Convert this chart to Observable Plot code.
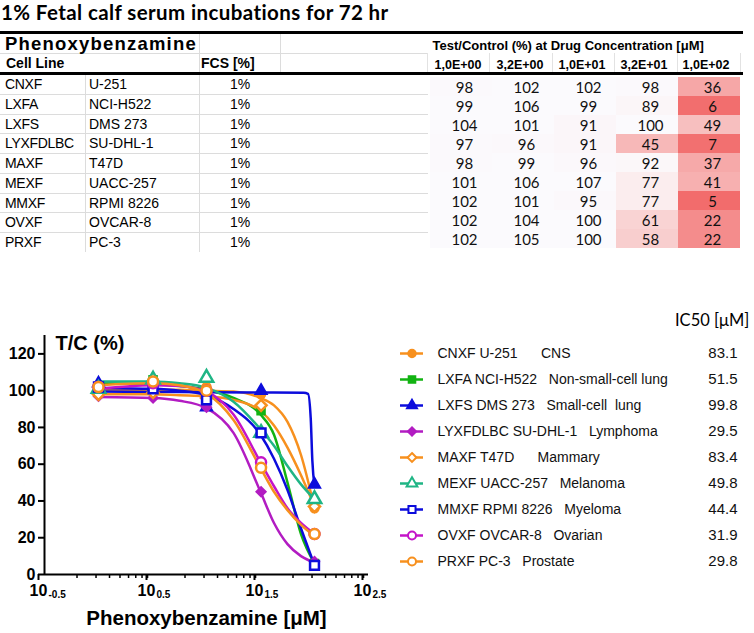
<!DOCTYPE html>
<html><head><meta charset="utf-8">
<script src="https://cdn.jsdelivr.net/npm/d3@7"></script>
<script src="https://cdn.jsdelivr.net/npm/@observablehq/plot@0.6"></script>
<style>
html,body{margin:0;padding:0;background:#fff;}
#root{position:relative;width:754px;height:633px;overflow:hidden;font-family:"Liberation Sans",Arial,sans-serif;color:#000;}
.a{position:absolute;white-space:pre;}
.a svg{display:block;}
</style></head><body><div id="root"></div>
<script>
// ---------------- data ----------------
const title = "1% Fetal calf serum incubations for 72 hr";
const drugName = "Phenoxybenzamine";
const cellPanels = ["CNXF","LXFA","LXFS","LYXFDLBC","MAXF","MEXF","MMXF","OVXF","PRXF"];
const cellLines = ["U-251","NCI-H522","DMS 273","SU-DHL-1","T47D","UACC-257","RPMI 8226","OVCAR-8","PC-3"];
const tissues = ["CNS","Non-small-cell lung","Small-cell\u00a0 lung","Lymphoma","Mammary","Melanoma","Myeloma","Ovarian","Prostate"];
const legendGaps = [6,3,3,3,6,3,3,3,3];
const fcsValues = ["1%","1%","1%","1%","1%","1%","1%","1%","1%"];
const concLabels = ["1,0E+00","3,2E+00","1,0E+01","3,2E+01","1,0E+02"];
const concentrations = [1, 3.2, 10, 32, 100];
const tcCNXF = [98,102,102,98,36];
const tcLXFA = [99,106,99,89,6];
const tcLXFS = [104,101,91,100,49];
const tcLYXFDLBC = [97,96,91,45,7];
const tcMAXF = [98,99,96,92,37];
const tcMEXF = [101,106,107,77,41];
const tcMMXF = [102,101,95,77,5];
const tcOVXF = [102,104,100,61,22];
const tcPRXF = [102,105,100,58,22];
const ic50Values = [83.1,51.5,99.8,29.5,83.4,49.8,44.4,31.9,29.8];
// fitted curves, values at log10 concentrations
const fitLogConc = [0, 0.5, 0.75, 1, 1.25, 1.5, 1.625, 1.75, 1.875, 2];
const fitCNXF = [100.5, 100.5, 100.5, 100, 99.5, 96, 92, 83, 65, 36];
const fitLXFA = [104, 103.5, 102.5, 100.5, 96, 87, 76, 50, 22, 6];
const fitLYXFDLBC = [96.5, 96, 94.5, 90.5, 77, 45, 28, 16.5, 10, 6.5];
const fitMAXF = [98, 98, 97.5, 97, 95, 89, 81, 69, 54, 37];
const fitMEXF = [105, 105, 104, 101.5, 94, 79, 70, 59, 49, 41];
const fitMMXF = [101.5, 101, 100, 97.5, 90, 76, 63, 46, 25, 5];
const fitOVXF = [101, 103, 102.5, 99.5, 87, 61, 48, 36, 28, 22];
const fitPRXF = [103, 104, 103, 98.5, 84, 58, 45, 35, 27, 21];
const fitLogConcLXFS = [0, 0.5, 1, 1.5, 1.9, 1.94, 1.965, 1.98, 2];
const fitLXFS = [99.5, 99.3, 99.2, 99, 98.8, 98.3, 85, 62, 48];
const yTicks = [0,20,40,60,80,100,120];
const xTickExponents = ["-0.5","0.5","1.5","2.5"];

// ---------------- styling ----------------
const seriesColors = ["#f7901e","#12b312","#0c0cdc","#b21cc2","#f7901e","#1fb585","#0c0cdc","#c414c8","#f7901e"];
const seriesSymbols = ["circle","square","triangle","diamond2","diamond2","triangle","square","circle","circle"];
const seriesOpen = [false,false,false,false,true,true,true,true,true];

// ---------------- build tables ----------------
const tcSeries = [tcCNXF,tcLXFA,tcLXFS,tcLYXFDLBC,tcMAXF,tcMEXF,tcMMXF,tcOVXF,tcPRXF];
const fitSeries = [fitCNXF,fitLXFA,fitLXFS,fitLYXFDLBC,fitMAXF,fitMEXF,fitMMXF,fitOVXF,fitPRXF];
const names = cellPanels.map((p,i) => p + " " + cellLines[i]);
const points = [];
tcSeries.forEach((s,i) => s.forEach((v,j) => points.push({name: names[i], conc: concentrations[j], tc: v, open: seriesOpen[i]})));
const fits = [];
fitSeries.forEach((s,i) => {
  const lx = i === 2 ? fitLogConcLXFS : fitLogConc;
  s.forEach((v,j) => fits.push({name: names[i], conc: 10 ** lx[j], tc: v}));
});
const tableData = [];
tcSeries.forEach((s,i) => s.forEach((v,j) => tableData.push({panel: cellPanels[i], conc: concLabels[j], tc: v})));
const legendData = names.map((n,i) => ({name: n, open: seriesOpen[i],
  label: n + "\u00a0".repeat(legendGaps[i]) + tissues[i], ic50: ic50Values[i]}));

const root = document.getElementById("root");
function div(css, text) {
  const d = document.createElement("div");
  d.className = "a";
  d.style.cssText = css;
  if (text != null) d.textContent = text;
  root.appendChild(d);
  return d;
}

// ---------------- title & left table ----------------
div("left:1px;top:0px;font-family:Lato,sans-serif;font-weight:bold;font-size:20.5px;letter-spacing:0.4px;line-height:24px;", title);
const rowTop = 74, rowH = 19.75;
// grid lines
div("left:0;top:53px;width:428px;height:1px;background:#dcdcdc;");
for (let i = 1; i < 9; i++) div(`left:0;top:${rowTop + i*rowH}px;width:428px;height:1px;background:#dcdcdc;`);
div("left:199px;top:33px;width:1px;height:40px;background:#dcdcdc;");
div("left:280px;top:33px;width:1px;height:40px;background:#dcdcdc;");
div(`left:85px;top:${rowTop}px;width:1px;height:${9*rowH}px;background:#dcdcdc;`);
div(`left:199px;top:${rowTop}px;width:1px;height:${9*rowH}px;background:#dcdcdc;`);
[427,489,552,614,677,740].forEach(x => div(`left:${x}px;top:53px;width:1px;height:19px;background:#e2e2e2;`));
div("left:5px;top:33px;font-weight:bold;font-size:18.5px;letter-spacing:1.2px;line-height:21px;", drugName);
div("left:6px;top:54px;font-weight:bold;font-size:14px;line-height:18px;", "Cell Line");
div("left:201px;top:54px;font-weight:bold;font-size:14px;line-height:18px;", "FCS [%]");
cellPanels.forEach((p,i) => {
  const t = rowTop + i*rowH + 1;
  div(`left:5px;top:${t}px;font-size:14px;line-height:${rowH}px;letter-spacing:-0.3px;`, p);
  div(`left:89px;top:${t}px;font-size:14px;line-height:${rowH}px;`, cellLines[i]);
  div(`left:200px;width:80px;text-align:center;top:${t}px;font-size:14px;line-height:${rowH}px;`, fcsValues[i]);
});

// ---------------- heatmap (right table) ----------------
const heat = Plot.plot({
  width: 327, height: 43 + 9*rowH,
  marginLeft: 1, marginRight: 12, marginTop: 43, marginBottom: 0,
  x: {type: "band", domain: concLabels, padding: 0},
  y: {type: "band", domain: cellPanels, padding: 0, axis: null},
  color: {type: "linear", domain: [5, 45, 80, 100], range: ["#f26c6c", "#f7b8b8", "#fbf2f3", "#fbfafd"], clamp: true},
  style: {fontFamily: "Liberation Sans, Arial, sans-serif", background: "transparent"},
  marks: [
    Plot.cell(tableData, {x: "conc", y: "panel", fill: "tc"}),
    Plot.text(tableData, {x: "conc", y: "panel", text: "tc", fontSize: 15, fontFamily: "Lato, sans-serif", dx: 3, dy: 1, fill: "#111"}),
    Plot.axisX({anchor: "top", tickSize: 0, tickPadding: 6, textAnchor: "start", dx: -27, fontSize: 12.5, fontWeight: "bold", label: null}),
    Plot.text(["Test/Control (%) at Drug Concentration [μM]"], {frameAnchor: "top-left", dx: 4, dy: -29, lineAnchor: "middle", textAnchor: "start", fontSize: 13, fontWeight: "bold"})
  ]
});
div("left:427px;top:31px;").appendChild(heat);

// thick rules
div("left:0;top:31px;width:743px;height:3px;background:#000;");
div("left:0;top:72px;width:743px;height:3px;background:#000;");

// ---------------- dose response chart ----------------
const majorTicks = xTickExponents.map(e => 10 ** (+e));
const minorTicks = majorTicks.slice(0, 3).flatMap(m => [2,3,4,5,6,7,8,9].map(k => k * m));
const chart = Plot.plot({
  width: 400, height: 323,
  marginLeft: 44, marginRight: 32, marginTop: 25, marginBottom: 59,
  x: {type: "log", domain: [majorTicks[0], majorTicks[3]]},
  y: {domain: [0, 130]},
  color: {domain: names, range: seriesColors},
  symbol: {domain: names, range: seriesSymbols},
  style: {fontFamily: "Liberation Sans, Arial, sans-serif", fontWeight: "bold", background: "transparent"},
  marks: [
    Plot.axisY({ticks: yTicks, tickSize: 6, tickPadding: 3, fontSize: 16, fontWeight: "bold", strokeWidth: 2, label: null}),
    Plot.axisX({ticks: minorTicks, tickSize: 4, tickFormat: () => "", strokeWidth: 1.5, label: null}),
    Plot.axisX({ticks: majorTicks, tickSize: 6, tickPadding: 4, tickFormat: () => "10", dx: -6, fontSize: 16, fontWeight: "bold", strokeWidth: 2, label: null}),
    Plot.text(majorTicks, {x: d => d, text: (d,i) => xTickExponents[i], frameAnchor: "bottom", dy: 20, dx: 4, textAnchor: "start", lineAnchor: "middle", fontSize: 10, fontWeight: "bold"}),
    Plot.ruleX([majorTicks[0]], {strokeWidth: 2}),
    Plot.ruleY([0], {strokeWidth: 2}),
    Plot.text(["T/C (%)"], {frameAnchor: "top-left", dx: 11, dy: 8, lineAnchor: "middle", textAnchor: "start", fontSize: 20, fontWeight: "bold"}),
    Plot.text(["Phenoxybenzamine [μM]"], {frameAnchor: "bottom", dy: 44, lineAnchor: "middle", fontSize: 20.5, fontWeight: "bold"}),
    Plot.line(fits, {x: "conc", y: "tc", z: "name", stroke: "name", strokeWidth: 2.5, curve: "monotone-x"}),
    Plot.dot(points.filter(d => !d.open), {x: "conc", y: "tc", symbol: "name", fill: "name", stroke: "name", r: 4.5}),
    Plot.dot(points.filter(d => d.open), {x: "conc", y: "tc", symbol: "name", fill: "white", stroke: "name", strokeWidth: 2.5, r: 5})
  ]
});
div("left:0;top:310px;").appendChild(chart);

// ---------------- legend ----------------
div("left:675px;top:309px;font-family:Lato,sans-serif;font-size:16.5px;line-height:22px;", "IC50 [μM]");
const legend = Plot.plot({
  width: 374, height: 290,
  marginLeft: 20, marginRight: 331, marginTop: 52, marginBottom: 28,
  y: {type: "point", domain: names, padding: 0, axis: null},
  color: {domain: names, range: seriesColors},
  symbol: {domain: names, range: seriesSymbols},
  style: {fontFamily: "Liberation Sans, Arial, sans-serif", background: "transparent"},
  marks: [
    Plot.tickY(legendData, {y: "name", stroke: "name", strokeWidth: 2.5}),
    Plot.dot(legendData.filter(d => !d.open), {y: "name", symbol: "name", fill: "name", stroke: "name", r: 4}),
    Plot.dot(legendData.filter(d => d.open), {y: "name", symbol: "name", fill: "white", stroke: "name", strokeWidth: 2, r: 4}),
    Plot.text(legendData, {y: "name", text: "label", frameAnchor: "left", dx: 37, textAnchor: "start", fontSize: 14, fill: "#111"}),
    Plot.text(legendData, {y: "name", text: d => d.ic50.toFixed(1), frameAnchor: "left", dx: 337, textAnchor: "end", fontSize: 15, fill: "#111"})
  ]
});
div("left:380px;top:300px;").appendChild(legend);
</script>
</body></html>
